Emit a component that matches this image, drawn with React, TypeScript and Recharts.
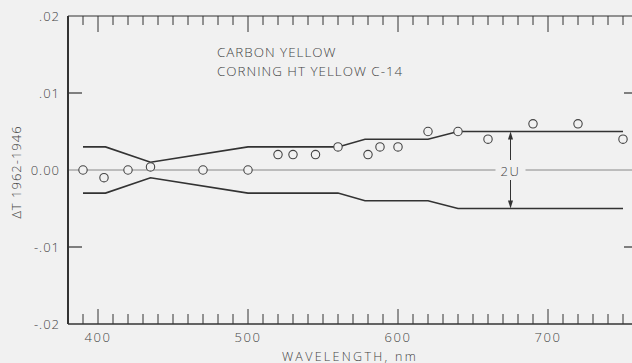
import React from 'react';
import {
  ComposedChart,
  Line,
  Scatter,
  XAxis,
  YAxis,
  ReferenceLine,
} from 'recharts';

// measured points, delta T (1962 - 1946)
const pointWavelengths = [390, 404, 420, 435, 470, 500, 520, 530, 545, 560, 580, 588, 600, 620, 640, 660, 690, 720, 750];
const pointDeltaT = [0, -0.001, 0, 0.0004, 0, 0, 0.002, 0.002, 0.002, 0.003, 0.002, 0.003, 0.003, 0.005, 0.005, 0.004, 0.006, 0.006, 0.004];

// uncertainty band (+U / -U)
const bandWavelengths = [390, 405, 435, 500, 560, 578, 620, 640, 750];
const upperBand = [0.003, 0.003, 0.001, 0.003, 0.003, 0.004, 0.004, 0.005, 0.005];
const lowerBand = [-0.003, -0.003, -0.001, -0.003, -0.003, -0.004, -0.004, -0.005, -0.005];

const xTicks = [
  390, 400, 410, 420, 430, 440, 450, 460, 470, 480, 490, 500, 510, 520, 530, 540, 550, 560, 570,
  580, 590, 600, 610, 620, 630, 640, 650, 660, 670, 680, 690, 700, 710, 720, 730, 740, 750,
];
const xMajorTicks = [400, 500, 600, 700];
const xDomain = [380, 760];
const yTicks = [-0.02, -0.01, 0, 0.01, 0.02];
const yTickLabels = ['-.02', '-.01', '0.00', '.01', '.02'];
const yDomain = [-0.02, 0.02];

const arrowAt = 675;
const arrowSpan = [-0.005, 0.005];

const points = pointWavelengths.map((x, i) => ({ x, y: pointDeltaT[i] }));
const upper = bandWavelengths.map((x, i) => ({ x, y: upperBand[i] }));
const lower = bandWavelengths.map((x, i) => ({ x, y: lowerBand[i] }));

const BG = '#f1f1f1';
const INK = '#333';
const font = {
  fontFamily: "'Open Sans', 'DejaVu Sans', sans-serif",
  fontWeight: 300,
  fill: '#444',
};

const BottomTick = ({ x, y, payload }: any) => {
  const major = xMajorTicks.includes(payload.value);
  return (
    <g>
      <line x1={x} x2={x} y1={y} y2={y - (major ? 15 : 10)} stroke={INK} strokeWidth={1} />
      {major && (
        <text x={x} y={y + 13} textAnchor="middle" dominantBaseline="central" fontSize={13} letterSpacing={1.5} {...font}>
          {payload.value}
        </text>
      )}
    </g>
  );
};

const TopTick = ({ x, y, payload }: any) => {
  const major = xMajorTicks.includes(payload.value);
  return <line x1={x} x2={x} y1={y} y2={y + (major ? 16 : 9)} stroke={INK} strokeWidth={1} />;
};

const LeftTick = ({ x, y, payload }: any) => {
  const v = payload.value;
  const label = yTickLabels[yTicks.indexOf(v)];
  return (
    <g>
      {Math.abs(v) === 0.01 && <line x1={x} x2={x + 14} y1={y} y2={y} stroke={INK} strokeWidth={1.2} />}
      <text x={x - 8} y={y} textAnchor="end" dominantBaseline="central" fontSize={13} letterSpacing={1} {...font}>
        {label}
      </text>
    </g>
  );
};

const RightTick = ({ x, y, payload }: any) => {
  if (Math.abs(payload.value) !== 0.01) return <g />;
  return <line x1={x - 14} x2={x} y1={y} y2={y} stroke={INK} strokeWidth={1.2} />;
};

const Circle = (props: any) => (
  <circle cx={props.cx} cy={props.cy} r={4.2} fill={BG} stroke="#444" strokeWidth={1.1} />
);

// double headed arrow with the 2U label cut into the zero line
const TwoU = ({ x1, y1, y2 }: any) => {
  const top = Math.min(y1, y2);
  const bot = Math.max(y1, y2);
  const mid = (top + bot) / 2;
  return (
    <g>
      <rect x={x1 - 15} y={mid - 7} width={30} height={14} fill={BG} />
      <line x1={x1} x2={x1} y1={top + 6} y2={mid - 10} stroke={INK} strokeWidth={1} />
      <line x1={x1} x2={x1} y1={mid + 10} y2={bot - 6} stroke={INK} strokeWidth={1} />
      <polygon points={`${x1},${top} ${x1 - 2.5},${top + 8} ${x1 + 2.5},${top + 8}`} fill={INK} />
      <polygon points={`${x1},${bot} ${x1 - 2.5},${bot - 8} ${x1 + 2.5},${bot - 8}`} fill={INK} />
      <text x={x1} y={mid + 1} textAnchor="middle" dominantBaseline="central" fontSize={13} letterSpacing={1.5} {...font}>
        2U
      </text>
    </g>
  );
};

export default function App() {
  return (
    <div style={{ position: 'fixed', left: 0, top: 0, width: 632, height: 363, overflow: 'hidden', background: BG }}>
      <ComposedChart width={648} height={363} margin={{ top: 0, right: 0, bottom: 0, left: 0 }}>
        <XAxis
          dataKey="x"
          type="number"
          domain={xDomain}
          ticks={xTicks}
          interval={0}
          height={39}
          stroke={INK}
          tick={(p: any) => <BottomTick {...p} />}
          tickLine={false}
          tickSize={0}
          tickMargin={0}
          axisLine={{ stroke: INK, strokeWidth: 1.5 }}
        />
        <XAxis
          xAxisId="top"
          dataKey="x"
          orientation="top"
          type="number"
          domain={xDomain}
          ticks={xTicks}
          interval={0}
          height={16}
          stroke={INK}
          tick={(p: any) => <TopTick {...p} />}
          tickLine={false}
          tickSize={0}
          tickMargin={0}
          axisLine={{ stroke: INK, strokeWidth: 1.2 }}
        />
        <YAxis
          dataKey="y"
          type="number"
          domain={yDomain}
          ticks={yTicks}
          interval={0}
          width={68}
          stroke={INK}
          tick={(p: any) => <LeftTick {...p} />}
          tickLine={false}
          tickSize={0}
          tickMargin={0}
          axisLine={{ stroke: INK, strokeWidth: 2 }}
        />
        <YAxis
          yAxisId="right"
          dataKey="y"
          orientation="right"
          type="number"
          domain={yDomain}
          ticks={yTicks}
          interval={0}
          width={10}
          stroke={INK}
          tick={(p: any) => <RightTick {...p} />}
          tickLine={false}
          tickSize={0}
          tickMargin={0}
          axisLine={{ stroke: INK, strokeWidth: 1.5 }}
        />
        <ReferenceLine y={0} stroke="#888" strokeWidth={1} />
        <ReferenceLine
          segment={[
            { x: arrowAt, y: arrowSpan[0] },
            { x: arrowAt, y: arrowSpan[1] },
          ]}
          shape={(p: any) => <TwoU {...p} />}
        />
        <Line data={upper} xAxisId="top" dataKey="y" type="linear" stroke={INK} strokeWidth={1.6} dot={false} isAnimationActive={false} />
        <Line data={lower} yAxisId="right" dataKey="y" type="linear" stroke={INK} strokeWidth={1.6} dot={false} isAnimationActive={false} />
        <Scatter data={points} dataKey="y" shape={(p: any) => <Circle {...p} />} isAnimationActive={false} />
        <text x={217} y={57} fontSize={13.4} letterSpacing={1} {...font}>
          CARBON YELLOW
        </text>
        <text x={217} y={75.5} fontSize={13.4} letterSpacing={1} {...font}>
          CORNING HT YELLOW C-14
        </text>
        <text
          x={16}
          y={172}
          transform="rotate(-90 16 172)"
          textAnchor="middle"
          dominantBaseline="central"
          fontSize={13}
          letterSpacing={1}
          {...font}
        >
          ΔT 1962-1946
        </text>
        <text x={350} y={356} textAnchor="middle" dominantBaseline="central" fontSize={12.5} letterSpacing={2.3} {...font}>
          WAVELENGTH, nm
        </text>
      </ComposedChart>
    </div>
  );
}
